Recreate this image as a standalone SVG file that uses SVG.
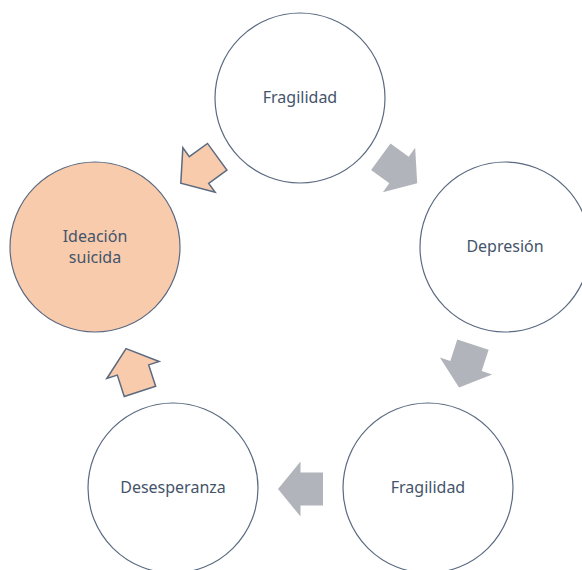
<svg xmlns="http://www.w3.org/2000/svg" width="582" height="570" viewBox="0 0 582 570">
<style>
.c{fill:#fff;stroke:#5b6a80;stroke-width:1.2}
.p{fill:#f8cbad}
.t{font-family:"Noto Sans","Open Sans",sans-serif;font-size:16px;fill:#44546a;text-anchor:middle}
.ag{fill:#b1b4ba}
.ap{fill:#f8cbad;stroke:#5b6a80;stroke-width:1.5;stroke-linejoin:miter}
</style>
<defs>
<polygon id="arr" points="-22.5,-16.5 0,-16.5 0,-27.5 22.5,0 0,27.5 0,16.5 -22.5,16.5"/>
</defs>
<g id="connectors">
<use href="#arr" class="ag" transform="translate(399,170) rotate(36)"/>
<use href="#arr" class="ag" transform="translate(466,366) rotate(108)"/>
<use href="#arr" class="ag" transform="translate(300.5,489) rotate(180)"/>
<use href="#arr" class="ap" transform="translate(133,370) rotate(252)"/>
<use href="#arr" class="ap" transform="translate(199,170) rotate(144)"/>
</g>
<g id="n1"><circle class="c" cx="300" cy="98" r="85"/><text class="t" x="300" y="103">Fragilidad</text></g>
<g id="n2"><circle class="c" cx="505" cy="247" r="85"/><text class="t" x="505" y="252">Depresión</text></g>
<g id="n3"><circle class="c" cx="428" cy="488" r="85"/><text class="t" x="428" y="493">Fragilidad</text></g>
<g id="n4"><circle class="c" cx="173" cy="488" r="85"/><text class="t" x="173" y="493">Desesperanza</text></g>
<g id="n5"><circle class="c p" cx="95" cy="247" r="85"/><text class="t" x="95" y="242">Ideación</text><text class="t" x="95" y="263">suicida</text></g>
</svg>
